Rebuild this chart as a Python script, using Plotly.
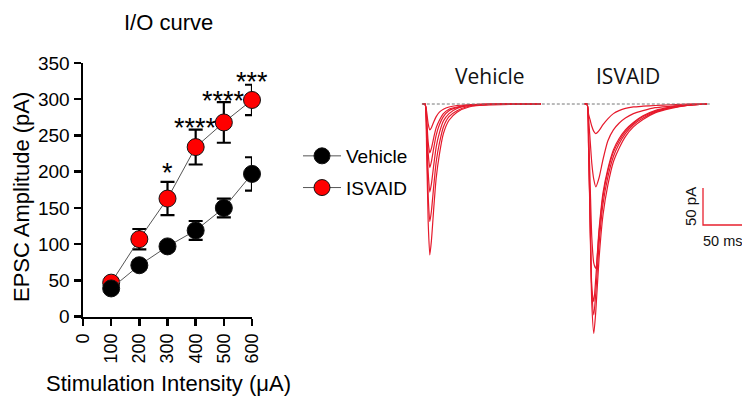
import plotly.graph_objects as go

# ---------------- I/O curve data ----------------
intensity = [100, 200, 300, 400, 500, 600]
vehicle_mean = [39, 71, 97, 119, 150, 197]
vehicle_sem = [6, 6, 6, 13, 13, 23]
isvaid_mean = [47, 107, 163, 234, 268, 299]
isvaid_sem = [6, 14, 23, 24, 28, 21]
x_ticks = [0, 100, 200, 300, 400, 500, 600]
y_ticks = [0, 50, 100, 150, 200, 250, 300, 350]
stars = ["", "", "*", "****", "****", "***"]

# ---------------- example EPSC traces (ms, pA) ----------------
veh_t = [-3, 0, 2, 4, 6, 8, 11, 14, 18, 23, 30, 40, 55, 80, 145]
veh_traces = [
    [0, 0, -10, -27, -35, -32, -24, -17, -11, -7, -4, -2, -1, 0, 0],
    [0, 0, -19, -52, -66, -60, -45, -32, -22, -13, -7, -4, -1, 0, 0],
    [0, 0, -25, -67, -86, -78, -59, -42, -28, -17, -9, -5, -2, 0, 0],
    [0, 0, -35, -93, -119, -108, -82, -58, -39, -23, -13, -6, -2, -1, 0],
    [0, 0, -47, -125, -159, -145, -110, -78, -53, -31, -17, -9, -3, -1, 0],
    [0, 0, -60, -160, -204, -185, -140, -100, -68, -40, -22, -11, -4, -1, 0],
]
isv_t = [-3, 0, 2, 4, 6, 8.5, 11, 15, 20, 26, 33, 40, 48, 58, 70, 85, 105, 125, 150]
isv_traces = [
    [0, 0, -14, -22, -30, -37, -40, -36, -28, -20, -13, -9, -6, -4, -3, -2, -1, 0, 0],
    [0, 0, -20, -50, -80, -102, -112, -100, -75, -50, -35, -26, -19, -13, -9, -5, -3, -1, 0],
    [0, 0, -40, -110, -180, -215, -222, -170, -120, -88, -62, -47, -35, -25, -16, -9, -4, -1, 0],
    [0, 0, -60, -160, -250, -267, -235, -175, -125, -91, -65, -50, -37, -26, -17, -10, -5, -2, 0],
    [0, 0, -55, -160, -250, -285, -255, -190, -135, -99, -71, -54, -40, -28, -19, -11, -5, -2, 0],
    [0, 0, -60, -170, -270, -310, -280, -210, -150, -110, -78, -60, -44, -31, -21, -12, -6, -2, 0],
]
scale_pa = 50
scale_ms = 50

W, H = 742, 400
ARIAL = "Liberation Sans, Arial, sans-serif"
HUM = "Open Sans, sans-serif"
RED = "#e8202e"
TRACE_RED = "#e6192b"
ISV_OFFSET = 202.5  # ms, horizontal offset of the ISVAID traces


def px(x):
    return x / W


def py(y):
    return 1 - y / H


fig = go.Figure()

# ISVAID first so Vehicle markers sit on top
fig.add_trace(go.Scatter(
    x=intensity, y=isvaid_mean, name="ISVAID", mode="lines+markers",
    line=dict(color="#555555", width=1),
    marker=dict(size=17, color="#ff0000", line=dict(color="#111111", width=1)),
    error_y=dict(type="data", array=isvaid_sem, color="black", thickness=2.2, width=7),
    legendrank=2, legendgroup="b", cliponaxis=False, xaxis="x", yaxis="y",
))
fig.add_trace(go.Scatter(
    x=intensity, y=vehicle_mean, name="Vehicle", mode="lines+markers",
    line=dict(color="#555555", width=1),
    marker=dict(size=17, color="#000000", line=dict(color="#111111", width=1)),
    error_y=dict(type="data", array=vehicle_sem, color="black", thickness=2.2, width=7),
    legendrank=1, legendgroup="a", cliponaxis=False, xaxis="x", yaxis="y",
))

# EPSC traces on a hidden second pair of axes
for tr in veh_traces:
    fig.add_trace(go.Scatter(
        x=veh_t, y=tr, mode="lines", showlegend=False, hoverinfo="skip",
        line=dict(color=TRACE_RED, width=1.2, shape="spline", smoothing=0.6),
        xaxis="x2", yaxis="y2",
    ))
for tr in isv_traces:
    fig.add_trace(go.Scatter(
        x=[t + ISV_OFFSET for t in isv_t], y=tr, mode="lines", showlegend=False,
        hoverinfo="skip",
        line=dict(color=TRACE_RED, width=1.2, shape="spline", smoothing=0.6),
        xaxis="x2", yaxis="y2",
    ))

# baseline dashed line
fig.add_trace(go.Scatter(
    x=[-4, 358], y=[0, 0], mode="lines", showlegend=False, hoverinfo="skip",
    line=dict(color="#777777", width=1, dash="3px,2px"), xaxis="x2", yaxis="y2",
))

# scale bar
sb_x0, sb_y0 = 347.5, -163.5
fig.add_trace(go.Scatter(
    x=[sb_x0, sb_x0, sb_x0 + scale_ms], y=[sb_y0 + scale_pa, sb_y0, sb_y0],
    mode="lines", showlegend=False, hoverinfo="skip",
    line=dict(color=RED, width=1.3), xaxis="x2", yaxis="y2", cliponaxis=False,
))


def txt(x, y, text, family, size, color="black", angle=0, xanchor="center"):
    return dict(x=px(x), y=py(y), xref="paper", yref="paper", text=text,
                textangle=angle, showarrow=False, xanchor=xanchor, yanchor="middle",
                font=dict(family=family, size=size, color=color))


ann = []
# stars
star_pos = {2: 207, 3: 269, 4: 306, 5: 332}
for i, s in enumerate(stars):
    if s:
        ann.append(dict(x=intensity[i], y=star_pos[i], xref="x", yref="y", text=s,
                        showarrow=False, xanchor="center", yanchor="middle", yshift=-6,
                        font=dict(family=ARIAL, size=27, color="black")))
ann.append(txt(168, 22, "I/O curve", ARIAL, 22))
ann.append(txt(22, 197, "EPSC Amplitude (pA)", ARIAL, 22, angle=-90))
ann.append(txt(168, 383, "Stimulation Intensity (\u03bcA)", ARIAL, 22))
ann.append(txt(490, 76, "Vehicle", HUM, 21, "#111111"))
ann.append(txt(628, 76, "ISVAID", HUM, 21, "#111111"))
ann.append(txt(691, 207, "50 pA", ARIAL, 15, "#111111", angle=-90))
ann.append(txt(701, 241, "50 ms", ARIAL, 14.5, "#111111", xanchor="left"))

fig.update_layout(
    width=W, height=H, margin=dict(l=0, r=0, t=0, b=0, autoexpand=False),
    paper_bgcolor="white", plot_bgcolor="rgba(0,0,0,0)",
    showlegend=True,
    legend=dict(x=px(298), y=py(137), xanchor="left", yanchor="top",
                font=dict(family=ARIAL, size=19, color="black"),
                bgcolor="rgba(0,0,0,0)", itemwidth=38, tracegroupgap=4,
                traceorder="grouped"),
    xaxis=dict(domain=[px(83), px(252)], range=[0, 600], tickvals=x_ticks,
               ticktext=[str(v) for v in x_ticks], tickangle=-90,
               showline=True, linecolor="black", linewidth=2.5,
               ticks="outside", ticklen=7, tickwidth=2.5, tickcolor="black",
               showgrid=False, zeroline=False, automargin=False,
               tickfont=dict(family=ARIAL, size=18, color="black"),
               anchor="y", fixedrange=True),
    yaxis=dict(domain=[py(316.7), py(63)], range=[0, 350], tickvals=y_ticks,
               showline=True, linecolor="black", linewidth=2.5,
               ticks="outside", ticklen=7, tickwidth=2.5, tickcolor="black",
               showgrid=False, zeroline=False, automargin=False,
               tickfont=dict(family=ARIAL, size=19, color="black"),
               anchor="x", fixedrange=True),
    xaxis2=dict(domain=[0.5, 1], range=[-67.5, 396.25], visible=False,
                anchor="y2", fixedrange=True),
    yaxis2=dict(domain=[0, 1], range=[-400, 140.54], visible=False,
                anchor="x2", fixedrange=True),
    annotations=ann,
)

fig.write_html("out.html",
               config={"displayModeBar": False, "staticPlot": True},
               post_script="document.body.style.margin='0';document.body.style.overflow='hidden';")
